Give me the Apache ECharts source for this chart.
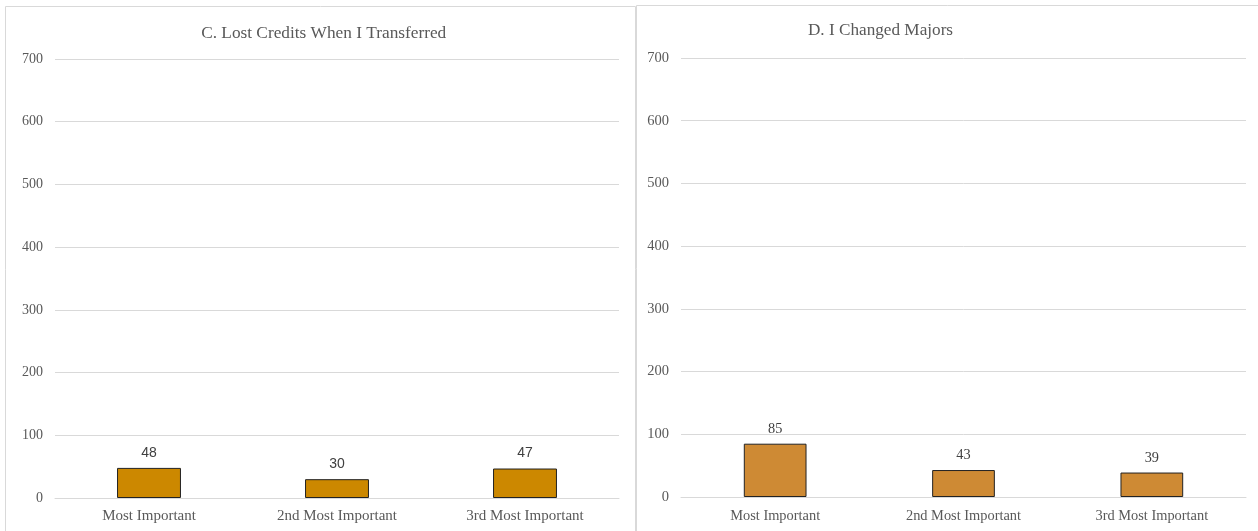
<!DOCTYPE html>
<html><head><meta charset="utf-8">
<script src="https://cdn.jsdelivr.net/npm/echarts@6/dist/echarts.min.js"></script>
<style>html,body{margin:0;padding:0;background:#fff}#c{width:1258px;height:531px}</style>
</head><body><div id="c"></div>
<script>
const categories = ['Most Important', '2nd Most Important', '3rd Most Important'];
const lostCredits = [48, 30, 47];
const changedMajors = [85, 43, 39];
const titleC = 'C. Lost Credits When I Transferred';
const titleD = 'D. I Changed Majors';
const yTicks = [0, 100, 200, 300, 400, 500, 600, 700];

const chart = echarts.init(document.getElementById('c'));
const serif = '"Liberation Serif", "DejaVu Serif", serif';
function yAxis(i){return {gridIndex:i,type:'value',min:yTicks[0],max:yTicks[yTicks.length-1],interval:yTicks[1]-yTicks[0],
  axisLine:{show:false},axisTick:{show:false},
  axisLabel:{fontFamily:serif,fontSize:i===0?14:14.5,color:'#595959',margin:i===0?12:12},
  splitLine:{lineStyle:{color:'#d9d9d9',width:1}}};}
function xAxis(i){return {gridIndex:i,type:'category',data:categories,
  axisLine:{lineStyle:{color:'#d9d9d9'}},axisTick:{show:false},
  axisLabel:{fontFamily:serif,fontSize:i===0?15:14.4,color:'#595959',margin:i===0?11:12}};}
chart.setOption({
  animation:false,
  graphic:[
    {type:'rect',shape:{x:5.5,y:6.5,width:630,height:540},style:{fill:'none',stroke:'#d9d9d9',lineWidth:1}},
    {type:'rect',shape:{x:636.5,y:5.5,width:640,height:540},style:{fill:'#fff',stroke:'#d9d9d9',lineWidth:1}}
  ],
  title:[
    {text:titleC,left:318.7,top:20,textAlign:'center',textStyle:{fontFamily:serif,fontSize:17.3,fontWeight:'normal',color:'#595959'}},
    {text:titleD,left:875.5,top:17,textAlign:'center',textStyle:{fontFamily:serif,fontSize:17.2,fontWeight:'normal',color:'#595959'}}
  ],
  grid:[
    {left:55,right:1258-619,top:59,bottom:531-498,containLabel:false},
    {left:681,right:1258-1246,top:58,bottom:531-497,containLabel:false}
  ],
  xAxis:[xAxis(0),xAxis(1)],
  yAxis:[yAxis(0),yAxis(1)],
  series:[
    {type:'bar',xAxisIndex:0,yAxisIndex:0,data:lostCredits,barWidth:'34%',
     itemStyle:{color:'#CC8800',borderColor:'#222',borderWidth:1},
     label:{show:true,position:'top',distance:8,fontFamily:'"Liberation Sans", Arial, sans-serif',fontSize:14,color:'#404040'}},
    {type:'bar',xAxisIndex:1,yAxisIndex:1,data:changedMajors,barWidth:'33.3%',
     itemStyle:{color:'#CE8A34',borderColor:'#222',borderWidth:1},
     label:{show:true,position:'top',distance:7.5,fontFamily:serif,fontSize:14.3,color:'#404040'}}
  ]
});
</script></body></html>
